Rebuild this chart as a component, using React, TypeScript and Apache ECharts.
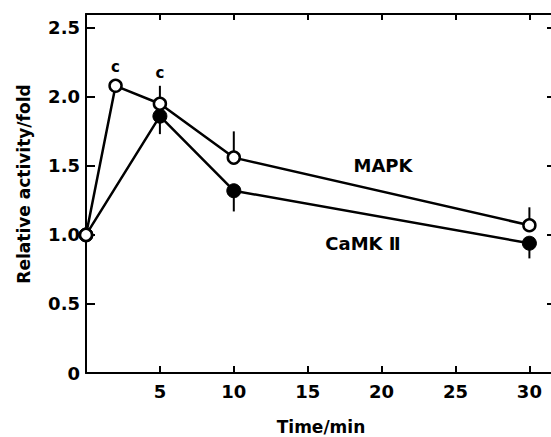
import React, { useEffect, useRef } from "react";
import * as echarts from "echarts";

// Data
const mapkTimes = [0, 2, 5, 10, 30];
const mapkValues = [1.0, 2.08, 1.95, 1.56, 1.07];
const mapkUpper = [null, null, 2.08, 1.75, 1.2];
const mapkNotes = ["", "c", "c", "", ""];

const camkTimes = [0, 5, 10, 30];
const camkValues = [1.0, 1.86, 1.32, 0.94];
const camkLower = [null, 1.73, 1.17, 0.83];

const xTickLabels = ["5", "10", "15", "20", "25", "30"];
const yTickLabels = ["0", "0.5", "1.0", "1.5", "2.0", "2.5"];

const FONT = "DejaVu Sans";

export default function App() {
  const ref = useRef<HTMLDivElement>(null);

  useEffect(() => {
    if (!ref.current) return;
    const chart = echarts.init(ref.current, null, { renderer: "svg" });

    const mapkData = mapkTimes.map((t, i) => {
      const item: any = { value: [t, mapkValues[i]] };
      if (mapkNotes[i]) {
        item.label = {
          show: true,
          formatter: mapkNotes[i],
          position: "top",
          distance: mapkUpper[i] != null ? 16 : 4,
          color: "#000",
          fontFamily: FONT,
          fontWeight: "bold",
          fontSize: 15,
        };
      }
      return item;
    });
    const camkData = camkTimes.map((t, i) => [t, camkValues[i]]);

    const mapkErr: number[][] = [];
    mapkTimes.forEach((t, i) => {
      if (mapkUpper[i] != null) mapkErr.push([t, mapkValues[i], mapkUpper[i] as number]);
    });
    const camkErr: number[][] = [];
    camkTimes.forEach((t, i) => {
      if (camkLower[i] != null) camkErr.push([t, camkValues[i], camkLower[i] as number]);
    });

    const errRender = (params: any, api: any) => {
      const p1 = api.coord([api.value(0), api.value(1)]);
      const p2 = api.coord([api.value(0), api.value(2)]);
      return {
        type: "line",
        shape: { x1: p1[0], y1: p1[1], x2: p2[0], y2: p2[1] },
        style: { stroke: "#000", lineWidth: 2 },
      };
    };

    const axisLine = { show: true, onZero: false, lineStyle: { color: "#000", width: 2 } };
    const labelStyle = {
      color: "#000",
      fontFamily: FONT,
      fontWeight: "bold" as const,
      fontSize: 18,
    };

    const xFmt = (v: number) => {
      const s = String(v);
      return xTickLabels.includes(s) ? s : "";
    };
    const yFmt = (v: number) => {
      const s = v === 0 ? "0" : v.toFixed(1);
      return yTickLabels.includes(s) && Math.abs(v - Number(s)) < 1e-6 ? s : "";
    };

    chart.setOption({
      animation: false,
      backgroundColor: "#fff",
      grid: {
        left: 86,
        right: 10,
        top: 14,
        bottom: 64,
        containLabel: false,
        outerBoundsMode: "none",
      },
      xAxis: [
        {
          type: "value",
          position: "bottom",
          min: 0,
          max: 31.8,
          interval: 5,
          axisLine,
          axisTick: { show: true, inside: true, length: 7, lineStyle: { color: "#000", width: 2 } },
          axisLabel: { ...labelStyle, margin: 9, formatter: xFmt },
          splitLine: { show: false },
          name: "Time/min",
          nameLocation: "middle",
          nameGap: 45,
          nameTextStyle: { ...labelStyle, fontSize: 17 },
        },
        {
          type: "value",
          position: "top",
          min: 0,
          max: 31.8,
          interval: 5,
          axisLine,
          axisTick: { show: true, inside: true, length: 6, lineStyle: { color: "#000", width: 2 } },
          axisLabel: { show: false },
          splitLine: { show: false },
        },
      ],
      yAxis: [
        {
          type: "value",
          position: "left",
          min: 0,
          max: 2.6,
          interval: 0.5,
          axisLine,
          axisTick: { show: true, inside: true, length: 9, lineStyle: { color: "#000", width: 2 } },
          axisLabel: { ...labelStyle, margin: 6, formatter: yFmt },
          splitLine: { show: false },
        },
        {
          type: "value",
          position: "right",
          min: 0,
          max: 2.6,
          interval: 0.5,
          axisLine,
          axisTick: { show: true, inside: true, length: 9, lineStyle: { color: "#000", width: 2 } },
          axisLabel: { show: false },
          splitLine: { show: false },
        },
      ],
      graphic: [
        {
          type: "text",
          x: 24,
          y: 184,
          rotation: Math.PI / 2,
          style: {
            text: "Relative activity/fold",
            align: "center",
            verticalAlign: "middle",
            fill: "#000",
            fontFamily: FONT,
            fontWeight: "bold",
            fontSize: 17,
          },
        },
        {
          type: "text",
          x: 383,
          y: 165,
          style: {
            text: "MAPK",
            align: "center",
            verticalAlign: "middle",
            fill: "#000",
            fontFamily: FONT,
            fontWeight: "bold",
            fontSize: 18,
          },
        },
        {
          type: "text",
          x: 363,
          y: 243,
          style: {
            text: "CaMK \u2161",
            align: "center",
            verticalAlign: "middle",
            fill: "#000",
            fontFamily: FONT,
            fontWeight: "bold",
            fontSize: 18,
          },
        },
      ],
      series: [
        {
          type: "custom",
          name: "MAPK error",
          renderItem: errRender,
          data: mapkErr,
          z: 1,
          silent: true,
        },
        {
          type: "custom",
          name: "CaMKII error",
          renderItem: errRender,
          data: camkErr,
          z: 1,
          silent: true,
        },
        {
          type: "line",
          name: "CaMK II",
          data: camkData,
          symbol: "circle",
          symbolSize: 14,
          showAllSymbol: true,
          lineStyle: { color: "#000", width: 2.5 },
          itemStyle: { color: "#000", borderColor: "#000", borderWidth: 1 },
          z: 3,
        },
        {
          type: "line",
          name: "MAPK",
          data: mapkData,
          symbol: "circle",
          symbolSize: 12,
          showAllSymbol: true,
          lineStyle: { color: "#000", width: 2.5 },
          itemStyle: { color: "#fff", borderColor: "#000", borderWidth: 2.5 },
          z: 4,
        },
      ],
    });

    return () => chart.dispose();
  }, []);

  return (
    <div
      style={{
        position: "absolute",
        left: 0,
        top: 0,
        width: 551,
        height: 437,
        overflow: "hidden",
        background: "#fff",
      }}
    >
      <div ref={ref} style={{ width: 566, height: 437 }} />
    </div>
  );
}
